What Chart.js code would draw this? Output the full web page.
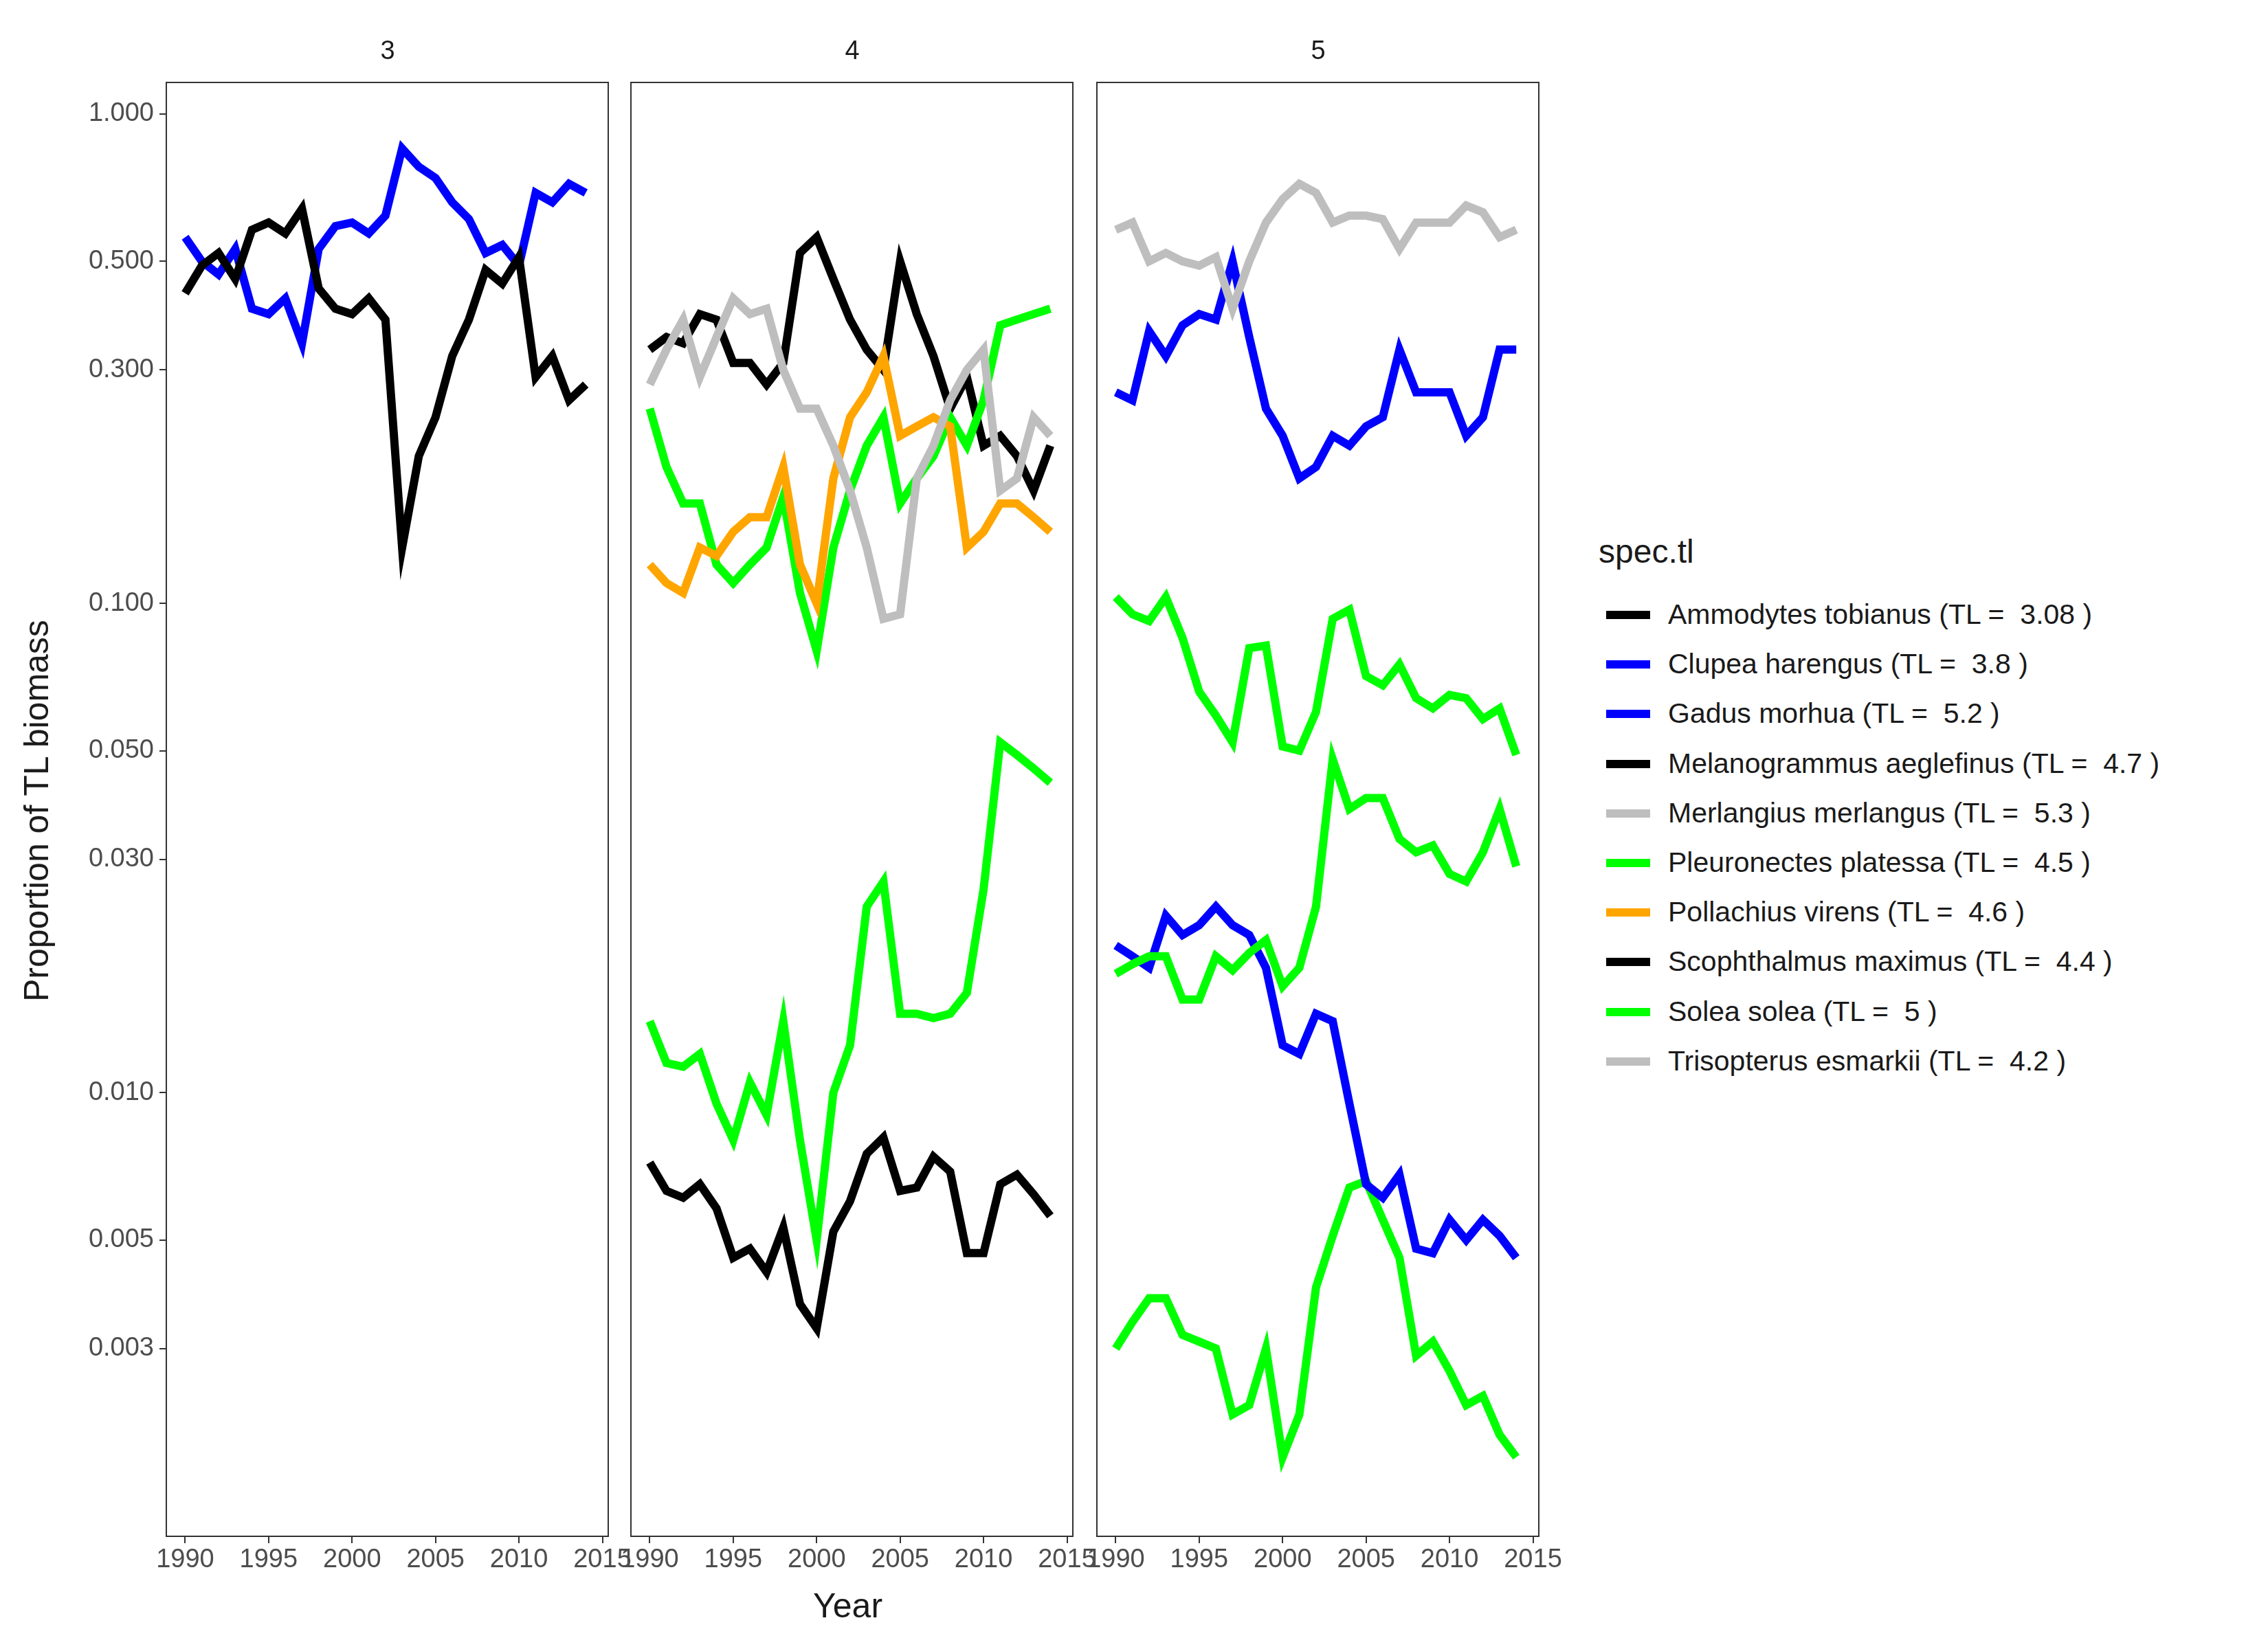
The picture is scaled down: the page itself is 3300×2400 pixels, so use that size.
<!DOCTYPE html><html><head><meta charset="utf-8">
<script src="https://cdn.jsdelivr.net/npm/chart.js@4"></script>
<style>body{margin:0;width:3300px;height:2400px;background:#fff;position:relative;font-family:Arial,"Liberation Sans",sans-serif;overflow:hidden}
canvas{position:absolute}.t{position:absolute;color:#1a1a1a;white-space:pre}</style></head><body>
<script>
const years=[1990,1991,1992,1993,1994,1995,1996,1997,1998,1999,2000,2001,2002,2003,2004,2005,2006,2007,2008,2009,2010,2011,2012,2013,2014];
const p3Ammodytes=[0.43,0.49,0.52,0.46,0.58,0.60,0.57,0.64,0.44,0.40,0.39,0.42,0.38,0.13,0.20,0.24,0.32,0.38,0.48,0.45,0.51,0.29,0.32,0.26,0.28];
const p3Clupea=[0.56,0.50,0.47,0.53,0.40,0.39,0.42,0.34,0.53,0.59,0.60,0.57,0.62,0.85,0.78,0.74,0.66,0.61,0.52,0.54,0.49,0.69,0.66,0.72,0.69];
const p4Melanogrammus=[0.33,0.35,0.34,0.39,0.38,0.31,0.31,0.28,0.31,0.52,0.56,0.46,0.38,0.33,0.30,0.50,0.39,0.32,0.25,0.29,0.21,0.22,0.20,0.17,0.21];
const p4Trisopterus=[0.28,0.33,0.38,0.29,0.35,0.42,0.39,0.40,0.30,0.25,0.25,0.21,0.17,0.13,0.093,0.095,0.18,0.21,0.26,0.30,0.33,0.17,0.18,0.24,0.22];
const p4Pollachius=[0.12,0.11,0.105,0.13,0.125,0.14,0.15,0.15,0.19,0.12,0.10,0.18,0.24,0.27,0.32,0.22,0.23,0.24,0.23,0.13,0.14,0.16,0.16,0.15,0.14];
const p4GreenUpper=[0.25,0.19,0.16,0.16,0.12,0.11,0.12,0.13,0.165,0.105,0.08,0.13,0.17,0.21,0.24,0.16,0.18,0.20,0.24,0.21,0.26,0.37,0.38,0.39,0.40];
const p4GreenLower=[0.014,0.0115,0.0113,0.012,0.0095,0.008,0.0105,0.009,0.014,0.008,0.005,0.010,0.0125,0.024,0.027,0.0145,0.0145,0.0142,0.0145,0.016,0.026,0.052,0.049,0.046,0.043];
const p4Scophthalmus=[0.0072,0.0063,0.0061,0.0065,0.0058,0.0046,0.0048,0.0043,0.0053,0.0037,0.0033,0.0052,0.0060,0.0075,0.0081,0.0063,0.0064,0.0074,0.0069,0.0047,0.0047,0.0065,0.0068,0.0062,0.0056];
const p5Merlangius=[0.58,0.60,0.50,0.52,0.50,0.49,0.51,0.40,0.50,0.60,0.67,0.72,0.69,0.60,0.62,0.62,0.61,0.53,0.60,0.60,0.60,0.65,0.63,0.56,0.58];
const p5BlueUpper=[0.27,0.26,0.36,0.32,0.37,0.39,0.38,0.50,0.35,0.25,0.22,0.18,0.19,0.22,0.21,0.23,0.24,0.33,0.27,0.27,0.27,0.22,0.24,0.33,0.33];
const p5GreenTop=[0.103,0.095,0.092,0.103,0.085,0.066,0.059,0.052,0.081,0.082,0.051,0.050,0.060,0.093,0.097,0.071,0.068,0.075,0.064,0.061,0.065,0.064,0.058,0.061,0.049];
const p5GreenMid=[0.0175,0.0183,0.019,0.019,0.0155,0.0155,0.019,0.0178,0.0193,0.0205,0.0165,0.018,0.024,0.048,0.038,0.040,0.040,0.033,0.031,0.032,0.028,0.027,0.031,0.038,0.029];
const p5BlueLower=[0.020,0.019,0.018,0.023,0.021,0.022,0.024,0.022,0.021,0.018,0.0125,0.012,0.0145,0.014,0.0095,0.0065,0.0061,0.0068,0.0048,0.0047,0.0055,0.005,0.0055,0.0051,0.0046];
const p5GreenLow=[0.0030,0.0034,0.0038,0.0038,0.0032,0.0031,0.0030,0.0022,0.0023,0.0030,0.0018,0.0022,0.0040,0.0051,0.0064,0.0066,0.0055,0.0046,0.0029,0.0031,0.0027,0.0023,0.0024,0.0020,0.0018];
const yTicks=[0.003,0.005,0.01,0.03,0.05,0.1,0.3,0.5,1];
const xTicks=[1990,1995,2000,2005,2010,2015];
const panelLabels=['3','4','5'];
const legendItems=[['Ammodytes tobianus (TL =  3.08 )','#000'],['Clupea harengus (TL =  3.8 )','#0000ff'],['Gadus morhua (TL =  5.2 )','#0000ff'],['Melanogrammus aeglefinus (TL =  4.7 )','#000'],['Merlangius merlangus (TL =  5.3 )','#bebebe'],['Pleuronectes platessa (TL =  4.5 )','#00ff00'],['Pollachius virens (TL =  4.6 )','#ffa500'],['Scophthalmus maximus (TL =  4.4 )','#000'],['Solea solea (TL =  5 )','#00ff00'],['Trisopterus esmarkii (TL =  4.2 )','#bebebe']];
const B='#000',U='#0000ff',G='#bebebe',N='#00ff00',O='#ffa500';
const panels=[
 [[p3Ammodytes,B],[p3Clupea,U]],
 [[p4Trisopterus,G],[p4Pollachius,O],[p4GreenUpper,N],[p4Melanogrammus,B],[p4GreenLower,N],[p4Scophthalmus,B]],
 [[p5Merlangius,G],[p5BlueUpper,U],[p5GreenTop,N],[p5GreenMid,N],[p5BlueLower,U],[p5GreenLow,N]]
];
const plotLefts=[242,918,1596], plotW=643, YW=170;
const border={id:'bd',afterDraw(c){const a=c.chartArea,x=c.ctx;x.save();x.strokeStyle='#333';x.lineWidth=2;x.strokeRect(a.left,a.top,a.right-a.left,a.bottom-a.top);x.restore();}};
panels.forEach((ser,i)=>{
 const cv=document.createElement('canvas');
 const W=YW+plotW+40,H=2276;
 cv.style.left=(plotLefts[i]-YW)+'px';cv.style.top='60px';cv.style.width=W+'px';cv.style.height=H+'px';
 document.body.appendChild(cv);
 const first=i===0;
 new Chart(cv,{type:'line',data:{datasets:ser.map(([d,c])=>({data:years.map((y,k)=>({x:y,y:d[k]})),borderColor:c,borderWidth:12,pointRadius:0,fill:false,tension:0}))},
 options:{responsive:false,devicePixelRatio:1,animation:false,layout:{padding:{top:60,right:40,left:0,bottom:0}},plugins:{legend:{display:false},tooltip:{enabled:false}},
 scales:{x:{type:'linear',min:1988.87,max:2015.35,afterBuildTicks:s=>{s.ticks=xTicks.map(v=>({value:v}))},afterFit:s=>{s.height=100},
   ticks:{color:'#4d4d4d',font:{size:38},maxRotation:0,autoSkip:false,padding:2,callback:v=>String(v)},grid:{drawOnChartArea:false,tickLength:10,color:'#333',lineWidth:2},border:{display:false}},
  y:{type:'logarithmic',min:0.00124,max:1.16,afterBuildTicks:s=>{s.ticks=yTicks.map(v=>({value:v}))},afterFit:s=>{s.width=YW},
   ticks:{color:first?'#4d4d4d':'rgba(0,0,0,0)',font:{size:38},autoSkip:false,padding:8,callback:v=>v.toFixed(3)},grid:{drawOnChartArea:false,tickLength:10,color:first?'#333':'rgba(0,0,0,0)',lineWidth:2},border:{display:false}}}},plugins:[border]});
 const t=document.createElement('div');t.className='t';t.textContent=panelLabels[i];t.style.font='38px Arial';
 t.style.left=(plotLefts[i]+plotW/2-10)+'px';t.style.top='52px';document.body.appendChild(t);
});
function txt(s,css){const d=document.createElement('div');d.className='t';d.textContent=s;Object.assign(d.style,css);document.body.appendChild(d);return d;}
txt('Year',{left:'1183px',top:'2308px',font:'50px Arial'});
txt('Proportion of TL biomass',{left:'53px',top:'1180px',font:'50px Arial',transform:'translate(-50%,-50%) rotate(-90deg)'});
txt('spec.tl',{left:'2326px',top:'775px',font:'48px Arial'});
legendItems.forEach(([s,c],k)=>{const y=895+k*72.2;
 const l=document.createElement('div');Object.assign(l.style,{position:'absolute',left:'2337px',top:(y-6)+'px',width:'64px',height:'12px',background:c});document.body.appendChild(l);
 txt(s,{left:'2427px',top:(y-24)+'px',font:'41px Arial'});});
</script></body></html>
